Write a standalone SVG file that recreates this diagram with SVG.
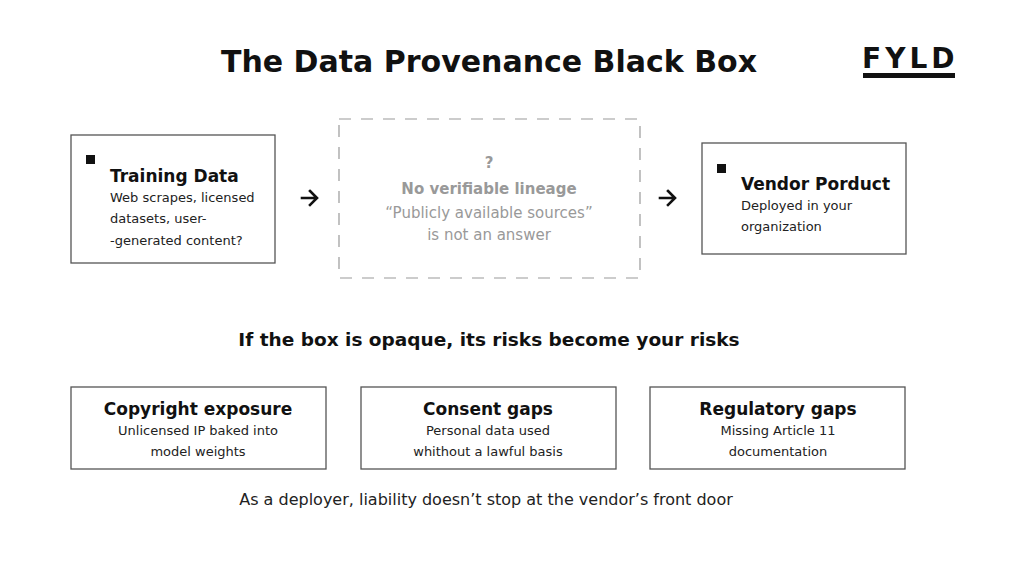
<svg xmlns="http://www.w3.org/2000/svg" width="1024" height="570" viewBox="0 0 1024 570">
<style>
.box{fill:#fff;stroke:#555;stroke-width:1.3}
.h{font-family:"DejaVu Sans",sans-serif;font-weight:bold;fill:#111}
.t{font-family:"DejaVu Sans",sans-serif;fill:#222;font-size:13px}
.g{font-family:"DejaVu Sans",sans-serif;fill:#999;font-size:15px}
.arr{fill:none;stroke:#111;stroke-width:2.6;stroke-linecap:square}
</style>
<rect width="1024" height="570" fill="#fff"/>
<text class="h" x="489" y="72" font-size="30" text-anchor="middle">The Data Provenance Black Box</text>
<g id="logo">
<text x="862" y="68" font-family="'DejaVu Sans',sans-serif" font-weight="bold" font-size="28" letter-spacing="4" fill="#111">FYLD</text>
<rect x="863" y="73" width="92" height="5" fill="#111"/>
</g>
<g id="training">
<rect class="box" x="71" y="135" width="204" height="128"/>
<rect x="86" y="155" width="9" height="9" fill="#111"/>
<text class="h" x="110" y="182" font-size="17">Training Data</text>
<text class="t" x="110" y="202">Web scrapes, licensed</text>
<text class="t" x="110" y="223">datasets, user-</text>
<text class="t" x="110" y="245">-generated content?</text>
</g>
<g id="blackbox">
<rect x="339" y="119" width="301" height="159" fill="none" stroke="#999" stroke-width="1.2" stroke-dasharray="12,10"/>
<text class="g" x="489" y="168" text-anchor="middle" font-weight="bold">?</text>
<text class="g" x="489" y="194" text-anchor="middle" font-weight="bold">No verifiable lineage</text>
<text class="g" x="489" y="218" text-anchor="middle">“Publicly available sources”</text>
<text class="g" x="489" y="240" text-anchor="middle">is not an answer</text>
</g>
<g id="vendor">
<rect class="box" x="702" y="143" width="204" height="111"/>
<rect x="717" y="164" width="9" height="9" fill="#111"/>
<text class="h" x="741" y="190" font-size="17">Vendor Porduct</text>
<text class="t" x="741" y="210">Deployed in your</text>
<text class="t" x="741" y="231">organization</text>
</g>
<g id="connectors">
<path class="arr" d="M302,198 H316 M310,191 L317,198 L310,205"/>
<path class="arr" d="M660,198 H674 M668,191 L675,198 L668,205"/>
</g>
<text class="h" x="489" y="346" font-size="18.5" text-anchor="middle">If the box is opaque, its risks become your risks</text>
<g id="copyright">
<rect class="box" x="71" y="387" width="255" height="82"/>
<text class="h" x="198" y="415" font-size="17" text-anchor="middle">Copyright exposure</text>
<text class="t" x="198" y="435" text-anchor="middle">Unlicensed IP baked into</text>
<text class="t" x="198" y="456" text-anchor="middle">model weights</text>
</g>
<g id="consent">
<rect class="box" x="361" y="387" width="255" height="82"/>
<text class="h" x="488" y="415" font-size="17" text-anchor="middle">Consent gaps</text>
<text class="t" x="488" y="435" text-anchor="middle">Personal data used</text>
<text class="t" x="488" y="456" text-anchor="middle">whithout a lawful basis</text>
</g>
<g id="regulatory">
<rect class="box" x="650" y="387" width="255" height="82"/>
<text class="h" x="778" y="415" font-size="17" text-anchor="middle">Regulatory gaps</text>
<text class="t" x="778" y="435" text-anchor="middle">Missing Article 11</text>
<text class="t" x="778" y="456" text-anchor="middle">documentation</text>
</g>
<text class="t" x="486" y="505" style="font-size:16px" text-anchor="middle">As a deployer, liability doesn’t stop at the vendor’s front door</text>
</svg>
